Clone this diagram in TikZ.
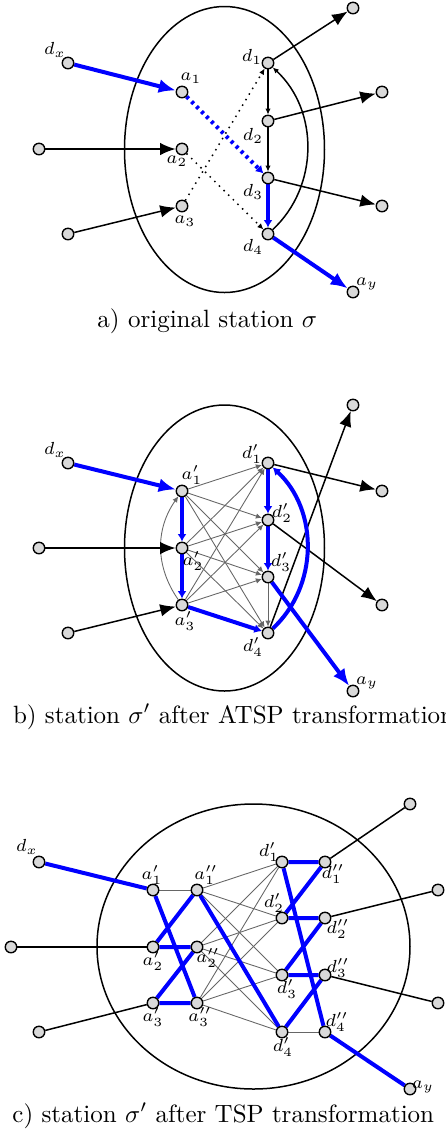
\documentclass[tikz,border=0pt]{standalone}
\usetikzlibrary{arrows.meta}
\pgfdeclarelayer{bg}
\pgfsetlayers{bg,main}
\begin{document}
\begin{tikzpicture}[x=0.4pt,y=-0.4pt,
 v/.style={circle,draw,line width=0.55pt,fill=black!15,minimum size=4.6pt,inner sep=0pt},
 lbl/.style={font=\scriptsize,inner sep=0pt},
 captxt/.style={font=\normalsize,inner sep=0pt},
 bigarr/.style={-{Latex[length=6.2pt,width=5pt]}},
 bigarrB/.style={-{Latex[length=6.8pt,width=5.6pt]}},
 smallarr/.style={-{Latex[length=2.4pt,width=2.2pt]}},
 bluearr/.style={-{Latex[length=3pt,width=3.6pt]}},
 blk/.style={line width=0.6pt},
 blu/.style={blue,line width=1.6pt},
 gry/.style={black!60,line width=0.35pt},
 ring/.style={line width=0.6pt},
 bdot/.style={dash pattern=on 1.2pt off 1.6pt},
]
\useasboundingbox (0,0) rectangle (446,1136);

% ================= a) =================
\node[v] (ax) at (68,63) {};
\node[v] (aa1) at (182,92) {};
\node[v] (al2) at (39,149) {};
\node[v] (aa2) at (182,149) {};
\node[v] (al3) at (68,234) {};
\node[v] (aa3) at (182,206) {};
\node[v] (ad1) at (268,63) {};
\node[v] (ad2) at (268,121) {};
\node[v] (ad3) at (268,178) {};
\node[v] (ad4) at (268,234) {};
\node[v] (ao1) at (353,8) {};
\node[v] (ao2) at (382,92) {};
\node[v] (ao3) at (382,206) {};
\node[v] (ay) at (353,292) {};

\node[lbl] (lax) at (55,50) {$d_x$};
\node[lbl] (laa1) at (191,78) {$a_1$};
\node[lbl] (laa2) at (177,161) {$a_2$};
\node[lbl] (laa3) at (185,221) {$a_3$};
\node[lbl] (lad1) at (252,57) {$d_1$};
\node[lbl] (lad2) at (253,136) {$d_2$};
\node[lbl] (lad3) at (253,192) {$d_3$};
\node[lbl] (lad4) at (253,247) {$d_4$};
\node[lbl] (lay) at (367,284) {$a_y$};
\node[captxt,anchor=base west] (capa) at (97,327) {a) original station $\sigma$};

\begin{pgfonlayer}{bg}
\draw[ring] (224.5,149.5) ellipse [x radius=100, y radius=143];
\draw[blu,bigarrB] (ax) -- (aa1);
\draw[blk,bigarr] (al2) -- (aa2);
\draw[blk,bigarr] (al3) -- (aa3);
\draw[blk,bigarr] (ad1) -- (ao1);
\draw[blk,bigarr] (ad2) -- (ao2);
\draw[blk,bigarr] (ad3) -- (ao3);
\draw[blu,bigarrB] (ad4) -- (ay);
\draw[blu,bdot,bluearr] (aa1) -- (ad3);
\draw[blk,dotted,smallarr] (aa2) -- (ad4);
\draw[blk,dotted,smallarr] (aa3) -- (ad1);
\draw[blk,smallarr] (ad1) -- (ad2);
\draw[blk,smallarr] (ad2) -- (ad3);
\draw[blu,bluearr] (ad3) -- (ad4);
\draw[blk,smallarr] (ad4) to[bend right=47] (ad1);
\end{pgfonlayer}

% ================= b) =================
\node[v] (bx) at (68,463) {};
\node[v] (ba1) at (182,491) {};
\node[v] (bl2) at (39,548) {};
\node[v] (ba2) at (182,548) {};
\node[v] (bl3) at (68,633) {};
\node[v] (ba3) at (182,605) {};
\node[v] (bd1) at (268,463) {};
\node[v] (bd2) at (268,520) {};
\node[v] (bd3) at (268,577) {};
\node[v] (bd4) at (268,633) {};
\node[v] (bo1) at (353,405) {};
\node[v] (bo2) at (382,491) {};
\node[v] (bo3) at (382,605) {};
\node[v] (by) at (353,691) {};

\node[lbl] (lbx) at (55,450) {$d_x$};
\node[lbl] (lba1) at (192,475) {$a'_1$};
\node[lbl] (lba2) at (193,561) {$a'_2$};
\node[lbl] (lba3) at (185,621) {$a'_3$};
\node[lbl] (lbd1) at (252,454) {$d'_1$};
\node[lbl] (lbd2) at (282,513) {$d'_2$};
\node[lbl] (lbd3) at (281,562) {$d'_3$};
\node[lbl] (lbd4) at (253,647) {$d'_4$};
\node[lbl] (lby) at (367,683) {$a_y$};
\node[captxt,anchor=base west] (capb) at (12.5,723) {b) station $\sigma'$ after ATSP transformation};

\begin{pgfonlayer}{bg}
\draw[ring] (224.5,548) ellipse [x radius=100, y radius=143];
\foreach \i in {1,2,3}{\foreach \j in {1,2,3,4}{\draw[gry,smallarr] (ba\i) -- (bd\j);}}
\draw[gry,smallarr] (ba3) to[bend left=35] (ba1);
\draw[gry,smallarr] (bd3) -- (bd4);
\draw[blu,bigarrB] (bx) -- (ba1);
\draw[blk,bigarr] (bl2) -- (ba2);
\draw[blk,bigarr] (bl3) -- (ba3);
\draw[blk,bigarr] (bd1) -- (bo2);
\draw[blk,bigarr] (bd2) -- (bo3);
\draw[blk,bigarr] (bd4) -- (bo1);
\draw[blu,bigarrB] (bd3) -- (by);
\draw[blu,bluearr] (ba1) -- (ba2);
\draw[blu,bluearr] (ba2) -- (ba3);
\draw[blu,bluearr] (ba3) -- (bd4);
\draw[blu,bluearr] (bd4) to[bend right=47] (bd1);
\draw[blu,bluearr] (bd1) -- (bd2);
\draw[blu,bluearr] (bd2) -- (bd3);
\end{pgfonlayer}

% ================= c) =================
\node[v] (cx) at (39,862) {};
\node[v] (ca1) at (153,890) {};
\node[v] (cb1) at (197,890) {};
\node[v] (cl2) at (11,947) {};
\node[v] (ca2) at (153,947) {};
\node[v] (cb2) at (197,947) {};
\node[v] (cl3) at (39,1032) {};
\node[v] (ca3) at (153,1003) {};
\node[v] (cb3) at (197,1003) {};
\node[v] (cd1) at (282,862) {};
\node[v] (ce1) at (325,862) {};
\node[v] (cd2) at (282,918) {};
\node[v] (ce2) at (325,918) {};
\node[v] (cd3) at (282,975) {};
\node[v] (ce3) at (325,975) {};
\node[v] (cd4) at (282,1032) {};
\node[v] (ce4) at (325,1032) {};
\node[v] (co1) at (410,804) {};
\node[v] (co2) at (438,890) {};
\node[v] (co3) at (438,1003) {};
\node[v] (cy) at (410,1089) {};

\node[lbl] (lcx) at (27,847) {$d_x$};
\node[lbl] (lca1) at (152,875) {$a'_1$};
\node[lbl] (lcb1) at (206,875) {$a''_1$};
\node[lbl] (lca2) at (153,961) {$a'_2$};
\node[lbl] (lcb2) at (208,958) {$a''_2$};
\node[lbl] (lca3) at (153,1017) {$a'_3$};
\node[lbl] (lcb3) at (200,1017) {$a''_3$};
\node[lbl] (lcd1) at (269,852) {$d'_1$};
\node[lbl] (lce1) at (333,874) {$d''_1$};
\node[lbl] (lcd2) at (274,903) {$d'_2$};
\node[lbl] (lce2) at (338,929) {$d''_2$};
\node[lbl] (lcd3) at (287,989) {$d'_3$};
\node[lbl] (lce3) at (338,968) {$d''_3$};
\node[lbl] (lcd4) at (283,1047) {$d'_4$};
\node[lbl] (lce4) at (337,1022) {$d''_4$};
\node[lbl] (lcy) at (423,1087) {$a_y$};
\node[captxt,anchor=base west] (capc) at (12,1122) {c) station $\sigma'$ after TSP transformation};

\begin{pgfonlayer}{bg}
\draw[ring] (253.5,946.5) ellipse [x radius=156.5, y radius=142.5];
\foreach \i in {1,2,3}{\foreach \j in {1,2,3,4}{\draw[gry] (cb\i) -- (cd\j);}}
\draw[gry] (ca1) -- (cb1);
\draw[gry] (cd4) -- (ce4);
\draw[blk] (cl2) -- (ca2);
\draw[blk] (cl3) -- (ca3);
\draw[blk] (ce1) -- (co1);
\draw[blk] (ce2) -- (co2);
\draw[blk] (ce3) -- (co3);
\draw[blu] (cx) -- (ca1) -- (cb3) -- (ca3) -- (cb2) -- (ca2) -- (cb1) -- (cd4) -- (ce3) -- (cd3) -- (ce2) -- (cd2) -- (ce1) -- (cd1) -- (ce4) -- (cy);
\end{pgfonlayer}
\end{tikzpicture}
\end{document}
